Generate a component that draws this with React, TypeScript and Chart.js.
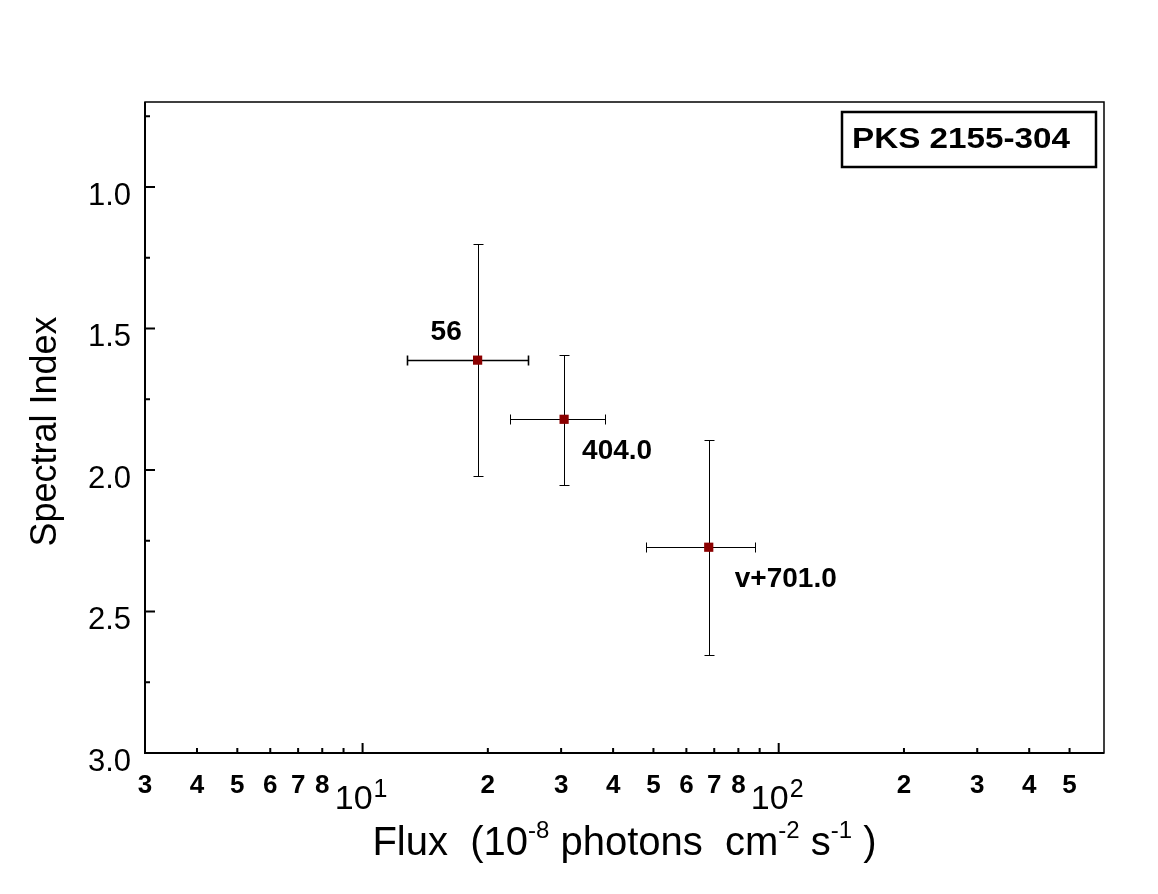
import { useEffect, useRef } from 'react';
import { Chart, registerables } from 'chart.js';

Chart.register(...registerables);

// values
const sourceLabels = ['56', '404.0', 'v+701.0'];
const flux = [18.9, 30.5, 67.9];
const fluxLow = [12.8, 22.6, 48.1];
const fluxHigh = [25.0, 38.3, 87.7];
const spectralIndex = [1.612, 1.821, 2.273];
const indexLow = [1.201, 1.593, 1.893];
const indexHigh = [2.022, 2.052, 2.654];

const xTickValues = [3, 4, 5, 6, 7, 8, 9, 10, 20, 30, 40, 50, 60, 70, 80, 90, 100, 200, 300, 400, 500];
const xTickLabels = ['3', '4', '5', '6', '7', '8', '', '10^1', '2', '3', '4', '5', '6', '7', '8', '', '10^2', '2', '3', '4', '5'];
const yTickValues = [1.0, 1.5, 2.0, 2.5, 3.0];
const yTickLabels = ['1.0', '1.5', '2.0', '2.5', '3.0'];
const yMinorTicks = [0.75, 1.25, 1.75, 2.25, 2.75];

const sourceName = 'PKS 2155-304';
const yTitle = 'Spectral Index';
// [text, isSuperscript]
const xTitleParts: [string, boolean][] = [
  ['Flux  (10', false],
  ['-8', true],
  [' photons  cm', false],
  ['-2', true],
  [' s', false],
  ['-1', true],
  [' )', false],
];

// pixel offsets of the point labels from their markers
const labelOffsets = [
  [-47, -20],
  [18, 40],
  [26, 40],
];

const FONT = "'Liberation Sans', Arial, Helvetica, sans-serif";

const rootStylePlugin = {
  id: 'rootStyle',
  beforeDatasetsDraw(chart: any) {
    const { ctx, scales } = chart;
    const xs = scales.x;
    const ys = scales.y;
    ctx.save();
    ctx.strokeStyle = '#000';
    ctx.lineWidth = 1;
    const cap = 5;
    for (let i = 0; i < flux.length; i++) {
      const px = Math.round(xs.getPixelForValue(flux[i])) + 0.5;
      const py = Math.round(ys.getPixelForValue(spectralIndex[i])) + 0.5;
      const xl = Math.round(xs.getPixelForValue(fluxLow[i])) + 0.5;
      const xh = Math.round(xs.getPixelForValue(fluxHigh[i])) + 0.5;
      const yl = Math.round(ys.getPixelForValue(indexLow[i])) + 0.5;
      const yh = Math.round(ys.getPixelForValue(indexHigh[i])) + 0.5;
      ctx.lineWidth = i === 0 ? 1.6 : 1;
      ctx.beginPath();
      ctx.moveTo(xl, py); ctx.lineTo(xh, py);
      ctx.moveTo(xl, py - cap); ctx.lineTo(xl, py + cap);
      ctx.moveTo(xh, py - cap); ctx.lineTo(xh, py + cap);
      ctx.stroke();
      ctx.lineWidth = 1;
      ctx.beginPath();
      ctx.moveTo(px, yl); ctx.lineTo(px, yh);
      ctx.moveTo(px - cap, yl); ctx.lineTo(px + cap, yl);
      ctx.moveTo(px - cap, yh); ctx.lineTo(px + cap, yh);
      ctx.stroke();
    }
    ctx.restore();
  },
  afterDatasetsDraw(chart: any) {
    const { ctx, chartArea: a, scales } = chart;
    const xs = scales.x;
    const ys = scales.y;
    ctx.save();
    ctx.fillStyle = '#000';
    ctx.strokeStyle = '#000';

    // frame
    ctx.lineWidth = 1.5;
    ctx.strokeRect(a.left, a.top, a.right - a.left, a.bottom - a.top);
    ctx.lineWidth = 2;
    ctx.beginPath();
    ctx.moveTo(a.left, a.top);
    ctx.lineTo(a.left, a.bottom);
    ctx.lineTo(a.right, a.bottom);
    ctx.stroke();

    // y ticks
    ctx.beginPath();
    yTickValues.forEach((v) => {
      const py = ys.getPixelForValue(v);
      ctx.moveTo(a.left, py);
      ctx.lineTo(a.left + 10, py);
    });
    yMinorTicks.forEach((v) => {
      const py = ys.getPixelForValue(v);
      ctx.moveTo(a.left, py);
      ctx.lineTo(a.left + 5, py);
    });
    // x ticks
    xTickValues.forEach((v, i) => {
      const px = xs.getPixelForValue(v);
      const len = xTickLabels[i].includes('^') ? 10 : 5;
      ctx.moveTo(px, a.bottom);
      ctx.lineTo(px, a.bottom - len);
    });
    ctx.stroke();

    // y tick labels
    ctx.textAlign = 'right';
    ctx.textBaseline = 'alphabetic';
    ctx.font = `31px ${FONT}`;
    yTickValues.forEach((v, i) => {
      const py = ys.getPixelForValue(v);
      ctx.fillText(yTickLabels[i], a.left - 14, py + 18);
    });

    // x tick labels
    xTickValues.forEach((v, i) => {
      const label = xTickLabels[i];
      if (!label) return;
      const px = xs.getPixelForValue(v);
      if (label.includes('^')) {
        const [base, exp] = label.split('^');
        ctx.font = `34px ${FONT}`;
        const wb = ctx.measureText(base).width;
        ctx.font = `25px ${FONT}`;
        const we = ctx.measureText(exp).width;
        const start = px - (wb + we) / 2 - 2;
        ctx.textAlign = 'left';
        ctx.font = `34px ${FONT}`;
        ctx.fillText(base, start, a.bottom + 56);
        ctx.font = `25px ${FONT}`;
        ctx.fillText(exp, start + wb + 1, a.bottom + 44);
      } else {
        ctx.textAlign = 'center';
        ctx.font = `bold 26px ${FONT}`;
        ctx.fillText(label, px, a.bottom + 40);
      }
    });

    // x title with superscripts
    const mainFont = `40px ${FONT}`;
    const supFont = `24px ${FONT}`;
    let total = 0;
    xTitleParts.forEach(([t, sup]) => {
      ctx.font = sup ? supFont : mainFont;
      total += ctx.measureText(t).width;
    });
    let cx = (a.left + a.right) / 2 - total / 2;
    ctx.textAlign = 'left';
    xTitleParts.forEach(([t, sup]) => {
      ctx.font = sup ? supFont : mainFont;
      ctx.fillText(t, cx, sup ? a.bottom + 85 : a.bottom + 102);
      cx += ctx.measureText(t).width;
    });

    // y title
    ctx.save();
    ctx.translate(56, (a.top + a.bottom) / 2 + 4);
    ctx.rotate(-Math.PI / 2);
    ctx.textAlign = 'center';
    ctx.font = `36px ${FONT}`;
    ctx.fillText(yTitle, 0, 0);
    ctx.restore();

    // point labels
    ctx.font = `bold 28px ${FONT}`;
    ctx.textAlign = 'left';
    sourceLabels.forEach((t, i) => {
      const px = xs.getPixelForValue(flux[i]);
      const py = ys.getPixelForValue(spectralIndex[i]);
      ctx.fillText(t, px + labelOffsets[i][0], py + labelOffsets[i][1]);
    });

    // source box
    const bx = 842, by = 112, bw = 254, bh = 55;
    ctx.fillStyle = '#fff';
    ctx.fillRect(bx, by, bw, bh);
    ctx.lineWidth = 2.5;
    ctx.strokeRect(bx, by, bw, bh);
    ctx.fillStyle = '#000';
    ctx.font = `bold 29px ${FONT}`;
    const tw = ctx.measureText(sourceName).width;
    ctx.save();
    ctx.translate(bx + 10, by + 36);
    ctx.scale(218 / tw, 1);
    ctx.fillText(sourceName, 0, 0);
    ctx.restore();

    ctx.restore();
  },
};

export default function App() {
  const canvasRef = useRef<HTMLCanvasElement>(null);

  useEffect(() => {
    document.body.style.margin = '0';
    const canvas = canvasRef.current;
    if (!canvas) return;

    const chart = new Chart(canvas, {
      type: 'scatter',
      data: {
        datasets: [
          {
            label: 'PKS 2155-304',
            data: flux.map((f, i) => ({ x: f, y: spectralIndex[i] })),
            pointStyle: 'rect',
            pointRadius: 6.5,
            pointHoverRadius: 6.5,
            backgroundColor: '#8b0000',
            borderColor: '#8b0000',
            borderWidth: 0,
            showLine: false,
          },
        ],
      },
      options: {
        animation: false,
        responsive: false,
        events: [],
        layout: { padding: { left: 145, top: 102, right: 54, bottom: 141 } },
        plugins: {
          legend: { display: false },
          tooltip: { enabled: false },
        },
        scales: {
          x: { type: 'logarithmic', min: 3, max: 605, display: false },
          y: { type: 'linear', min: 0.7, max: 3.0, reverse: true, display: false },
        },
      },
      plugins: [rootStylePlugin],
    });

    return () => chart.destroy();
  }, []);

  return (
    <div style={{ width: 1158, height: 894, background: '#fff', overflow: 'hidden' }}>
      <canvas ref={canvasRef} width={1158} height={894} style={{ display: 'block' }} />
    </div>
  );
}
